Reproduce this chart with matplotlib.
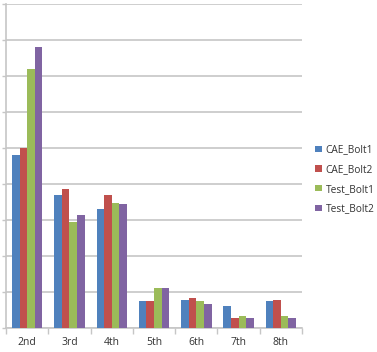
import numpy as np
import matplotlib.pyplot as plt

categories = ["2nd", "3rd", "4th", "5th", "6th", "7th", "8th"]
cae_bolt1 = [4.8, 3.7, 3.3, 0.76, 0.79, 0.63, 0.76]
cae_bolt2 = [5.0, 3.86, 3.71, 0.76, 0.85, 0.29, 0.80]
test_bolt1 = [7.2, 2.94, 3.49, 1.13, 0.75, 0.36, 0.36]
test_bolt2 = [7.8, 3.14, 3.45, 1.13, 0.69, 0.29, 0.29]
series = ["CAE_Bolt1", "CAE_Bolt2", "Test_Bolt1", "Test_Bolt2"]
colors = ["#4F81BD", "#C0504D", "#9BBB59", "#8064A2"]

plt.rcParams['font.family'] = ['Open Sans', 'DejaVu Sans']

fig = plt.figure(figsize=(3.77, 3.52), dpi=100)
ax = fig.add_axes([0.016, 0.0668, 0.785, 0.922])

x = np.arange(len(categories))
w = 0.18
for i, (vals, name, c) in enumerate(zip([cae_bolt1, cae_bolt2, test_bolt1, test_bolt2], series, colors)):
    ax.bar(x + (i - 1.5) * w, vals, w, color=c, label=name, zorder=3)

ax.set_xlim(-0.5, len(categories) - 0.5)
ax.set_ylim(0, 9)
ax.set_yticks(range(0, 10))
ax.yaxis.grid(True, color="#C6C6C6", linewidth=1.2, zorder=0)
ax.set_yticklabels([])
ax.tick_params(axis='y', length=3, color="#C6C6C6", width=1)

ax.set_xticks(x)
ax.set_xticklabels(categories, fontsize=7.5, color="#333333")
ax.set_xticks(np.arange(-0.5, len(categories), 1), minor=True)
ax.tick_params(axis='x', which='major', length=0, pad=6)
ax.tick_params(axis='x', which='minor', length=4, color="#C6C6C6", width=1)

for s in ["top", "right"]:
    ax.spines[s].set_visible(False)
for s in ["left", "bottom"]:
    ax.spines[s].set_color("#C6C6C6")
    ax.spines[s].set_linewidth(1.2)

leg = fig.legend(loc="center left", bbox_to_anchor=(0.826, 0.49), frameon=False,
                 fontsize=7.3, handlelength=0.6, handleheight=0.6, handletextpad=0.4,
                 labelspacing=0.85, borderaxespad=0)
for t in leg.get_texts():
    t.set_color("#333333")

plt.savefig("out.png", dpi=100)
